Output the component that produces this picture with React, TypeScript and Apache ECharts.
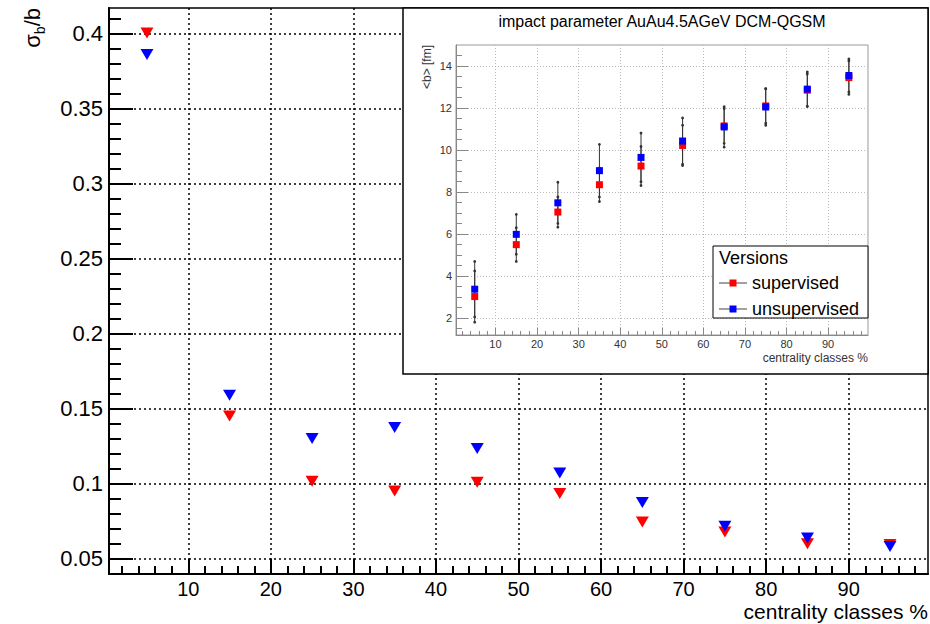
import React, { useEffect, useRef } from 'react';
import * as echarts from 'echarts';

// ---------- data ----------
const centrality = [5, 15, 25, 35, 45, 55, 65, 75, 85, 95];
const sigmaSupervised = [0.4007, 0.1454, 0.1018, 0.0953, 0.1011, 0.0936, 0.0746, 0.068, 0.0602, 0.0597];
const sigmaUnsupervised = [0.3863, 0.1592, 0.1303, 0.1376, 0.1236, 0.1073, 0.0876, 0.0718, 0.064, 0.0584];

const bSupervised = [3.03, 5.5, 7.05, 8.35, 9.24, 10.22, 11.15, 12.1, 12.85, 13.45];
const bSupervisedErr = [1.22, 0.8, 0.72, 0.8, 0.93, 0.96, 0.83, 0.82, 0.77, 0.8];
const bUnsupervised = [3.38, 5.99, 7.49, 9.02, 9.65, 10.43, 11.1, 12.05, 12.9, 13.55];
const bUnsupervisedErr = [1.32, 0.95, 0.98, 1.25, 1.16, 1.1, 0.96, 0.87, 0.82, 0.79];

// ---------- ticks ----------
const mainXMajor = [10, 20, 30, 40, 50, 60, 70, 80, 90];
const mainXMinor = [2, 4, 6, 8, 12, 14, 16, 18, 22, 24, 26, 28, 32, 34, 36, 38, 42, 44, 46, 48, 52, 54, 56, 58, 62, 64, 66, 68, 72, 74, 76, 78, 82, 84, 86, 88, 92, 94, 96, 98];
const mainYMajor = [0.05, 0.1, 0.15, 0.2, 0.25, 0.3, 0.35, 0.4];
const mainYMinor = [0.04, 0.06, 0.07, 0.08, 0.09, 0.11, 0.12, 0.13, 0.14, 0.16, 0.17, 0.18, 0.19, 0.21, 0.22, 0.23, 0.24, 0.26, 0.27, 0.28, 0.29, 0.31, 0.32, 0.33, 0.34, 0.36, 0.37, 0.38, 0.39, 0.41];
const insetXMajor = [10, 20, 30, 40, 50, 60, 70, 80, 90];
const insetXMinor = mainXMinor;
const insetYMajor = [2, 4, 6, 8, 10, 12, 14];
const insetYMinor = [1.5, 2.5, 3, 3.5, 4.5, 5, 5.5, 6.5, 7, 7.5, 8.5, 9, 9.5, 10.5, 11, 11.5, 12.5, 13, 13.5, 14.5];

const seriesNames = ['supervised', 'unsupervised'];
const seriesColors = ['#ff0000', '#0000ff'];

const FONT = '"Liberation Sans", Arial, Helvetica, sans-serif';

function legendIcon(color: string) {
  const svg =
    `<svg xmlns="http://www.w3.org/2000/svg" width="28" height="10" viewBox="0 0 28 10">` +
    `<line x1="0" y1="5" x2="28" y2="5" stroke="#444" stroke-width="1"/>` +
    `<rect x="10.5" y="1.5" width="7" height="7" fill="${color}"/></svg>`;
  return 'image://data:image/svg+xml;charset=utf-8,' + encodeURIComponent(svg);
}

function majorAxis(dim: 'x' | 'y', gridIndex: number, min: number, max: number, ticks: number[], inset: boolean) {
  const lineColor = inset ? '#888' : '#000';
  return {
    type: 'value',
    gridIndex,
    min,
    max,
    position: dim === 'x' ? 'bottom' : 'left',
    z: inset ? 4 : 0,
    axisLine: { show: true, onZero: false, lineStyle: { color: lineColor, width: inset ? 1 : 2 } },
    axisTick: {
      show: true,
      inside: true,
      customValues: ticks,
      length: inset ? (dim === 'x' ? 7 : 12) : dim === 'x' ? 15 : 24,
      lineStyle: { color: lineColor, width: inset ? 1 : 2 },
    },
    axisLabel: {
      show: true,
      customValues: ticks,
      color: inset ? '#333' : '#000',
      fontFamily: FONT,
      fontSize: inset ? 11 : dim === 'x' ? 20 : 22,
      margin: inset ? (dim === 'x' ? 3 : 4) : dim === 'x' ? 5 : 6,
    },
    splitLine: {
      show: true,
      lineStyle: inset
        ? { color: '#bbb', type: [1, 2], width: 1 }
        : { color: '#000', type: [2, 3], width: 1.5 },
    },
  };
}

function minorAxis(dim: 'x' | 'y', gridIndex: number, min: number, max: number, ticks: number[], inset: boolean) {
  const lineColor = inset ? '#888' : '#000';
  return {
    type: 'value',
    gridIndex,
    min,
    max,
    position: dim === 'x' ? 'bottom' : 'left',
    z: inset ? 4 : 0,
    axisLine: { show: false, onZero: false },
    axisTick: {
      show: true,
      inside: true,
      customValues: ticks,
      length: inset ? (dim === 'x' ? 4 : 6) : dim === 'x' ? 8 : 12,
      lineStyle: { color: lineColor, width: inset ? 1 : 2 },
    },
    axisLabel: { show: false },
    splitLine: { show: false },
  };
}

function errorBarSeries(values: number[], errors: number[]) {
  return {
    type: 'custom',
    xAxisIndex: 2,
    yAxisIndex: 2,
    z: 5,
    silent: true,
    data: centrality.map((c, i) => [c, values[i], errors[i]]),
    renderItem: (_params: any, api: any) => {
      const x = api.value(0);
      const y = api.value(1);
      const e = api.value(2);
      const top = api.coord([x, y + e]);
      const bot = api.coord([x, y - e]);
      const st = { stroke: '#333', lineWidth: 1 };
      return {
        type: 'group',
        children: [
          { type: 'line', shape: { x1: top[0], y1: top[1], x2: bot[0], y2: bot[1] }, style: st },
          { type: 'circle', shape: { cx: top[0], cy: top[1], r: 1.4 }, style: { fill: '#333' } },
          { type: 'circle', shape: { cx: bot[0], cy: bot[1], r: 1.4 }, style: { fill: '#333' } },
        ],
      };
    },
  };
}

function textStyle(text: string, size: number, color: string, align: string, vAlign = 'middle') {
  return {
    text,
    fill: color,
    fontFamily: FONT,
    fontSize: size,
    align,
    textAlign: align,
    verticalAlign: vAlign,
    textVerticalAlign: vAlign,
  };
}

export default function App() {
  const ref = useRef<HTMLDivElement>(null);

  useEffect(() => {
    if (!ref.current) return;
    const chart = echarts.init(ref.current, undefined, { renderer: 'svg' });

    const option: any = {
      animation: false,
      backgroundColor: '#fff',
      grid: [
        { left: 109, top: 8, width: 819, height: 566, show: true, borderColor: '#000', borderWidth: 1.5, backgroundColor: 'transparent', z: 0 },
        { left: 456, top: 45, width: 412, height: 290, show: true, borderColor: '#999', borderWidth: 1, backgroundColor: 'transparent', z: 4 },
      ],
      xAxis: [
        majorAxis('x', 0, 0.4, 99.6, mainXMajor, false),
        minorAxis('x', 0, 0.4, 99.6, mainXMinor, false),
        majorAxis('x', 1, 0.5, 99.6, insetXMajor, true),
        minorAxis('x', 1, 0.5, 99.6, insetXMinor, true),
      ],
      yAxis: [
        majorAxis('y', 0, 0.04, 0.4173, mainYMajor, false),
        minorAxis('y', 0, 0.04, 0.4173, mainYMinor, false),
        majorAxis('y', 1, 1.2, 15, insetYMajor, true),
        minorAxis('y', 1, 1.2, 15, insetYMinor, true),
      ],
      legend: {
        orient: 'vertical',
        left: 719,
        top: 274,
        padding: 0,
        itemGap: 8,
        itemWidth: 28,
        itemHeight: 10,
        z: 9,
        selectedMode: false,
        textStyle: { fontFamily: FONT, fontSize: 18, color: '#000', lineHeight: 16 },
        data: seriesNames.map((n, i) => ({ name: n, icon: legendIcon(seriesColors[i]) })),
      },
      graphic: [
        {
          type: 'rect',
          z: 3,
          shape: { x: 403, y: 8, width: 525, height: 366 },
          style: { fill: '#fff', stroke: '#000', lineWidth: 1.5 },
        },
        {
          type: 'text',
          z: 5,
          x: 662,
          y: 21,
          style: textStyle('impact parameter AuAu4.5AGeV DCM-QGSM', 16, '#000', 'center'),
        },
        {
          type: 'text',
          z: 5,
          x: 427,
          y: 45,
          rotation: Math.PI / 2,
          style: textStyle('<b> [fm]', 12, '#333', 'right'),
        },
        {
          type: 'text',
          z: 5,
          x: 868,
          y: 358,
          style: textStyle('centrality classes %', 12, '#333', 'right'),
        },
        {
          type: 'rect',
          z: 7,
          shape: { x: 713, y: 246, width: 155, height: 72 },
          style: { fill: '#fff', stroke: '#000', lineWidth: 1 },
        },
        {
          type: 'text',
          z: 8,
          x: 719,
          y: 258,
          style: textStyle('Versions', 18, '#000', 'left'),
        },
        {
          type: 'text',
          z: 5,
          x: 32,
          y: 8,
          rotation: Math.PI / 2,
          style: {
            ...textStyle('{a|σ}{s|b}{a|/b}', 22, '#000', 'right'),
            rich: {
              a: { fontFamily: FONT, fontSize: 22, lineHeight: 30, verticalAlign: 'middle' },
              s: { fontFamily: FONT, fontSize: 14, lineHeight: 30, verticalAlign: 'bottom' },
            },
          },
        },
        {
          type: 'text',
          z: 5,
          x: 928,
          y: 611,
          style: textStyle('centrality classes %', 21, '#000', 'right'),
        },
      ],
      series: [
        {
          name: seriesNames[0],
          type: 'scatter',
          xAxisIndex: 0,
          yAxisIndex: 0,
          z: 1,
          symbol: 'triangle',
          symbolRotate: 180,
          symbolSize: [13, 11],
          itemStyle: { color: seriesColors[0], opacity: 1 },
          data: centrality.map((c, i) => [c, sigmaSupervised[i]]),
        },
        {
          name: seriesNames[1],
          type: 'scatter',
          xAxisIndex: 0,
          yAxisIndex: 0,
          z: 1,
          symbol: 'triangle',
          symbolRotate: 180,
          symbolSize: [13, 11],
          itemStyle: { color: seriesColors[1], opacity: 1 },
          data: centrality.map((c, i) => [c, sigmaUnsupervised[i]]),
        },
        errorBarSeries(bSupervised, bSupervisedErr),
        errorBarSeries(bUnsupervised, bUnsupervisedErr),
        {
          name: seriesNames[0],
          type: 'scatter',
          xAxisIndex: 2,
          yAxisIndex: 2,
          z: 6,
          symbol: 'rect',
          symbolSize: 7,
          itemStyle: { color: seriesColors[0], opacity: 1 },
          data: centrality.map((c, i) => [c, bSupervised[i]]),
        },
        {
          name: seriesNames[1],
          type: 'scatter',
          xAxisIndex: 2,
          yAxisIndex: 2,
          z: 6,
          symbol: 'rect',
          symbolSize: 7,
          itemStyle: { color: seriesColors[1], opacity: 1 },
          data: centrality.map((c, i) => [c, bUnsupervised[i]]),
        },
      ],
    };

    chart.setOption(option);
    return () => chart.dispose();
  }, []);

  return (
    <div
      ref={ref}
      style={{ position: 'fixed', left: 0, top: 0, width: 930, height: 624, background: '#fff' }}
    />
  );
}
